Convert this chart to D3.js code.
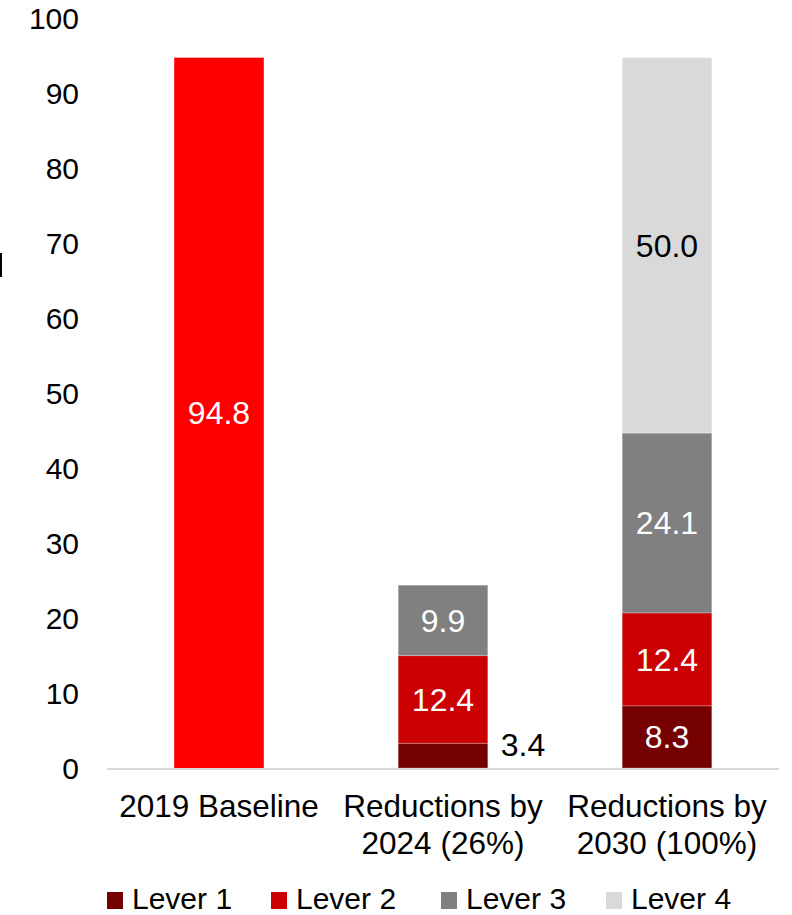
<!DOCTYPE html>
<html>
<head>
<meta charset="utf-8">
<script src="https://cdn.jsdelivr.net/npm/d3@7/dist/d3.min.js"></script>
<style>
  html, body { margin: 0; padding: 0; background: #fff; }
  svg { display: block; font-family: "Liberation Sans", Arial, sans-serif; }
</style>
</head>
<body>
<svg id="chart" width="792" height="915"></svg>
<script>
// ---- data ----
const categories = ["2019 Baseline", "Reductions by\n2024 (26%)", "Reductions by\n2030 (100%)"];
const seriesNames = ["Baseline", "Lever 1", "Lever 2", "Lever 3", "Lever 4"];
// bar heights as drawn in the picture
const baselineValues = [94.8, 0, 0];
const lever1Values = [0, 3.3, 8.3];
const lever2Values = [0, 11.7, 12.4];
const lever3Values = [0, 9.4, 24.0];
const lever4Values = [0, 0, 50.1];
// data labels as printed
const baselineLabels = ["94.8", "", ""];
const lever1Labels = ["", "3.4", "8.3"];
const lever2Labels = ["", "12.4", "12.4"];
const lever3Labels = ["", "9.9", "24.1"];
const lever4Labels = ["", "", "50.0"];
const yTicks = [0, 10, 20, 30, 40, 50, 60, 70, 80, 90, 100];
const legendNames = ["Lever 1", "Lever 2", "Lever 3", "Lever 4"];

const colors = {
  "Baseline": "#FF0000",
  "Lever 1": "#740000",
  "Lever 2": "#CC0000",
  "Lever 3": "#808080",
  "Lever 4": "#D9D9D9"
};
const labelColors = {
  "Baseline": "#fff", "Lever 1": "#fff", "Lever 2": "#fff", "Lever 3": "#fff", "Lever 4": "#000"
};
const labelSets = {
  "Baseline": baselineLabels, "Lever 1": lever1Labels, "Lever 2": lever2Labels,
  "Lever 3": lever3Labels, "Lever 4": lever4Labels
};

const table = categories.map((c, i) => ({
  cat: c,
  "Baseline": baselineValues[i],
  "Lever 1": lever1Values[i],
  "Lever 2": lever2Values[i],
  "Lever 3": lever3Values[i],
  "Lever 4": lever4Values[i]
}));

const svg = d3.select("#chart");

const x = d3.scaleBand().domain(categories).range([107, 779]).paddingInner(0.6).paddingOuter(0.3);
const y = d3.scaleLinear().domain([0, 100]).range([768, 18.7]);

// y tick labels
svg.append("g").selectAll("text").data(yTicks).join("text")
  .attr("x", 79).attr("y", d => y(d))
  .attr("dy", "0.35em")
  .attr("text-anchor", "end")
  .attr("font-size", 30)
  .attr("fill", "#000")
  .text(d => d);

// clipped axis title remnant
svg.append("rect").attr("x", 0).attr("y", 253).attr("width", 2).attr("height", 24).attr("fill", "#000");

// stacks
const stack = d3.stack().keys(seriesNames);
const stacked = stack(table);

const gBars = svg.append("g");
stacked.forEach(layer => {
  const key = layer.key;
  layer.forEach((d, i) => {
    const v = d[1] - d[0];
    if (v <= 0) return;
    const cat = categories[i];
    gBars.append("rect")
      .attr("x", x(cat))
      .attr("y", y(d[1]))
      .attr("width", x.bandwidth())
      .attr("height", y(d[0]) - y(d[1]))
      .attr("fill", colors[key])
      .attr("stroke", "#ffffff")
      .attr("stroke-opacity", key === "Baseline" ? 0 : 0.25)
      .attr("stroke-width", 1);
  });
});

// labels
const gLabels = svg.append("g");
stacked.forEach(layer => {
  const key = layer.key;
  layer.forEach((d, i) => {
    const v = d[1] - d[0];
    if (v <= 0) return;
    const cat = categories[i];
    const h = y(d[0]) - y(d[1]);
    const small = h < 36;
    gLabels.append("text")
      .attr("x", small ? x(cat) + x.bandwidth() + 13 : x(cat) + x.bandwidth() / 2)
      .attr("y", small ? y(d[1]) + 2 : (y(d[0]) + y(d[1])) / 2)
      .attr("dy", "0.35em")
      .attr("text-anchor", small ? "start" : "middle")
      .attr("font-size", 32)
      .attr("fill", small ? "#000" : labelColors[key])
      .text(labelSets[key][i]);
  });
});

// x axis line
svg.append("line")
  .attr("x1", x.range()[0]).attr("x2", x.range()[1])
  .attr("y1", y(0) + 1).attr("y2", y(0) + 1)
  .attr("stroke", "#D9D9D9").attr("stroke-width", 2);

// category labels
const gCat = svg.append("g");
categories.forEach(c => {
  const lines = c.split("\n");
  const t = gCat.append("text")
    .attr("x", x(c) + x.bandwidth() / 2)
    .attr("y", 817)
    .attr("text-anchor", "middle")
    .attr("font-size", 31.5)
    .attr("fill", "#000");
  lines.forEach((ln, k) => {
    t.append("tspan").attr("x", x(c) + x.bandwidth() / 2).attr("dy", k === 0 ? 0 : 37).text(ln);
  });
});

// legend
const legendX = [107, 271, 441, 606];
const gLeg = svg.append("g");
legendNames.forEach((n, i) => {
  gLeg.append("rect").attr("x", legendX[i]).attr("y", 892).attr("width", 16).attr("height", 17).attr("fill", colors[n]);
  gLeg.append("text").attr("x", legendX[i] + 25).attr("y", 908.5)
    .attr("font-size", 30).attr("fill", "#000").text(n);
});
</script>
</body>
</html>
